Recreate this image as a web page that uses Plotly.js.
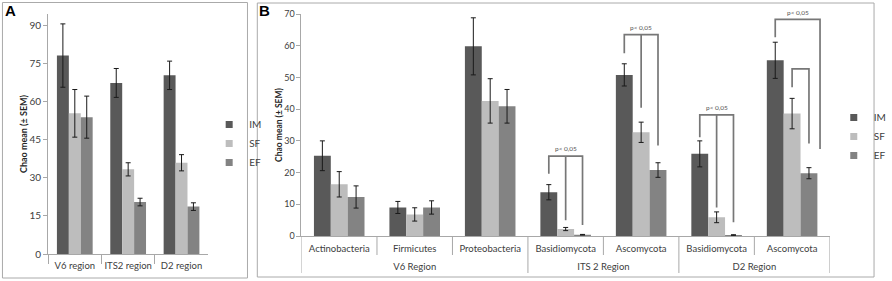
<!DOCTYPE html>
<html><head><meta charset="utf-8">
<script src="https://cdn.plot.ly/plotly-3.0.1.min.js"></script>
<style>html,body{margin:0;padding:0;background:#fff}#chart{width:892px;height:281px}</style>
</head><body><div id="chart"></div>
<script>
// ---- Panel A data ----
const regionsA = ['V6 region', 'ITS2 region', 'D2 region'];
const imA = [78.3, 67.5, 70.5];
const imErrA = [12.5, 5.7, 5.6];
const sfA = [55.5, 33.4, 36.0];
const sfErrA = [9.4, 2.6, 3.2];
const efA = [54.0, 20.5, 18.7];
const efErrA = [8.3, 1.5, 1.5];
const ticksA = [0, 15, 30, 45, 60, 75, 90];

// ---- Panel B data ----
const groupsB = ['V6 Region', 'V6 Region', 'V6 Region', 'ITS 2 Region', 'ITS 2 Region', 'D2 Region', 'D2 Region'];
const taxaB = ['Actinobacteria', 'Firmicutes', 'Proteobacteria', 'Basidiomycota', 'Ascomycota', 'Basidiomycota', 'Ascomycota'];
const imB = [25.3, 9.0, 59.8, 13.8, 50.8, 25.9, 55.4];
const imErrB = [4.7, 1.9, 9.0, 2.4, 3.5, 4.1, 5.7];
const sfB = [16.3, 6.8, 42.6, 2.2, 32.7, 5.9, 38.6];
const sfErrB = [4.0, 2.1, 7.0, 0.5, 3.2, 1.7, 4.8];
const efB = [12.3, 9.0, 40.9, 0.4, 20.8, 0.3, 19.8];
const efErrB = [3.5, 2.1, 5.3, 0.1, 2.3, 0.1, 1.75];
const ticksB = [0, 10, 20, 30, 40, 50, 60, 70];

const seriesNames = ['IM', 'SF', 'EF'];
const sigLabel = 'p< 0,05';

// ---- styles / layout helpers ----
const W = 892, H = 281;
const fx = px => px / W;
const fy = py => 1 - py / H;
const colors = ['#595959', '#bdbdbd', '#838383'];
const FONT = 'Lato, "Open Sans", sans-serif';
const axisCol = '#a8a8a8';
const txtCol = '#404040';

const valsA = [imA, sfA, efA], errsA = [imErrA, sfErrA, efErrA];
const valsB = [imB, sfB, efB], errsB = [imErrB, sfErrB, efErrB];

// category index positions and group centres for panel B
const taxaIdx = taxaB.map((_, i) => i);
const groupNames = [], groupCenters = [];
groupsB.forEach((g, i) => {
  if (groupNames[groupNames.length - 1] !== g) { groupNames.push(g); groupCenters.push([i, i]); }
  else groupCenters[groupCenters.length - 1][1] = i;
});
const groupPos = groupCenters.map(r => (r[0] + r[1]) / 2);
const groupBounds = [-0.5].concat(groupCenters.map(r => r[1] + 0.5));
const innerBounds = taxaIdx.slice(0, -1).map(i => i + 0.5).filter(v => groupBounds.indexOf(v) < 0);

const traces = [];
// legend entries (square markers)
['legend', 'legend2'].forEach(lg => {
  for (let s = 0; s < 3; s++) {
    traces.push({type: 'scatter', mode: 'markers', name: seriesNames[s], x: [null], y: [null],
      xaxis: 'x3', yaxis: 'y2', legend: lg, hoverinfo: 'skip',
      marker: {symbol: 'square', size: 7, color: colors[s]}});
  }
});
for (let s = 0; s < 3; s++) {
  traces.push({
    type: 'bar', name: seriesNames[s], x: regionsA, y: valsA[s],
    xaxis: 'x', yaxis: 'y', showlegend: false, hoverinfo: 'skip',
    marker: {color: colors[s], line: {width: 0}},
    error_y: {type: 'data', array: errsA[s], color: '#1a1a1a', thickness: 1, width: 2.5}
  });
}
for (let s = 0; s < 3; s++) {
  traces.push({
    type: 'bar', name: seriesNames[s], x: [groupsB, taxaB], y: valsB[s],
    xaxis: 'x2', yaxis: 'y2', showlegend: false, hoverinfo: 'skip',
    marker: {color: colors[s], line: {width: 0}},
    error_y: {type: 'data', array: errsB[s], color: '#1a1a1a', thickness: 1, width: 2.5}
  });
}
// invisible carrier for the group-label axis
traces.push({type: 'scatter', mode: 'markers', x: [null], y: [null], xaxis: 'x4', yaxis: 'y2',
  showlegend: false, hoverinfo: 'skip'});

// significance brackets (panel B), in category-index coordinates
const bw = 0.67 / 3;
const brackets = [
  {xs: [3 - bw, 3, 3 + bw], bottoms: [19.6, 5.0, 3.5], top: 25.2, label: true, lx: 3, ly: 27.6, ys: 0},
  {xs: [4 - bw, 4, 4 + bw], bottoms: [57.6, 40.4, 28.5], top: 63.5, label: true, lx: 4, ly: 65.7, ys: 0},
  {xs: [5 - bw, 5, 5 + bw], bottoms: [31.1, 9.0, 4.3], top: 38.2, label: true, lx: 5, ly: 40.4, ys: 0},
  {xs: [6 - bw, 6.37], bottoms: [62.7, 27.4], top: 68.3, label: true, lx: 6.08, ly: 69.5, ys: 3},
  {xs: [6, 6 + bw], bottoms: [46.9, 29.2], top: 52.7, label: false}
];

const shapes = [];
const annotations = [];
brackets.forEach(b => {
  const n = b.xs.length;
  let p = `M${b.xs[0]},${b.bottoms[0]} V${b.top} H${b.xs[n - 1]} V${b.bottoms[n - 1]}`;
  if (n === 3) p += ` M${b.xs[1]},${b.top} V${b.bottoms[1]}`;
  shapes.push({type: 'path', xref: 'x3', yref: 'y2', path: p, line: {color: '#777777', width: 1.7}});
  if (b.label) annotations.push({xref: 'x3', yref: 'y2', x: b.lx, y: b.ly, yshift: b.ys, text: sigLabel, showarrow: false,
    font: {family: FONT, size: 6.5, color: '#555'}, xanchor: 'center', yanchor: 'middle'});
});

// category separators for panel B
groupBounds.forEach(v => shapes.push({type: 'line', xref: 'x3', yref: 'paper', x0: v, x1: v,
  y0: fy(236), y1: fy(273), line: {color: axisCol, width: 1}}));
innerBounds.forEach(v => shapes.push({type: 'line', xref: 'x3', yref: 'paper', x0: v, x1: v,
  y0: fy(236), y1: fy(255), line: {color: axisCol, width: 1}}));

// frames
shapes.push({type: 'rect', xref: 'paper', yref: 'paper', x0: fx(2.5), x1: fx(252), y0: fy(278), y1: fy(2.5),
  line: {color: '#aaaaaa', width: 1}, layer: 'below'});
shapes.push({type: 'rect', xref: 'paper', yref: 'paper', x0: fx(262), x1: fx(890), y0: fy(277), y1: fy(3),
  line: {color: '#aaaaaa', width: 1}, layer: 'below'});

annotations.push({xref: 'paper', yref: 'paper', x: fx(11), y: fy(11), text: '<b>A</b>', showarrow: false,
  font: {family: 'Liberation Sans, Arial, sans-serif', size: 15, color: '#000'}, xanchor: 'center', yanchor: 'middle'});
annotations.push({xref: 'paper', yref: 'paper', x: fx(269.5), y: fy(10.5), text: '<b>B</b>', showarrow: false,
  font: {family: 'Liberation Sans, Arial, sans-serif', size: 15, color: '#000'}, xanchor: 'center', yanchor: 'middle'});

const yCommon = {
  showline: true, linecolor: axisCol, linewidth: 1, ticks: 'outside', ticklen: 4, tickcolor: axisCol,
  showgrid: false, zeroline: false, fixedrange: true
};

const layout = {
  width: W, height: H, margin: {l: 0, r: 0, t: 0, b: 0},
  paper_bgcolor: '#fff', plot_bgcolor: 'rgba(0,0,0,0)',
  font: {family: FONT, color: txtCol},
  barmode: 'group', bargap: 0.33, bargroupgap: 0,
  xaxis: {domain: [fx(49), fx(212)], anchor: 'y', type: 'category', showline: true, linecolor: axisCol,
    ticks: 'outside', tickson: 'boundaries', ticklen: 9, tickcolor: axisCol, showgrid: false, zeroline: false,
    tickangle: 0, ticklabelstandoff: 3, tickfont: {family: FONT, size: 9.5, color: txtCol}, fixedrange: true},
  yaxis: Object.assign({}, yCommon, {domain: [fy(254), fy(14)], anchor: 'x', range: [0, 94.7],
    tickmode: 'array', tickvals: ticksA, tickfont: {family: FONT, size: 10, color: txtCol},
    title: {text: 'Chao mean (± SEM)', standoff: 0, font: {family: FONT, size: 9, weight: 'bold', color: '#262626'}}}),
  xaxis2: {domain: [fx(307), fx(845)], anchor: 'y2', type: 'multicategory', range: [-0.5, 6.5],
    showline: true, linecolor: axisCol, ticks: '', showdividers: false, showticklabels: false,
    showgrid: false, zeroline: false, fixedrange: true},
  yaxis2: Object.assign({}, yCommon, {domain: [fy(236), fy(14)], anchor: 'x2', range: [0, 70],
    tickmode: 'array', tickvals: ticksB, tickfont: {family: FONT, size: 9, color: txtCol},
    title: {text: 'Chao mean (± SEM)', standoff: 0, font: {family: FONT, size: 8.5, weight: 'bold', color: '#262626'}}}),
  // taxon labels (first level)
  xaxis3: {overlaying: 'x2', anchor: 'y2', type: 'linear', range: [-0.5, 6.5], showline: false, showgrid: false,
    zeroline: false, ticks: '', tickmode: 'array', tickvals: taxaIdx, ticktext: taxaB, ticklabelstandoff: 5,
    tickfont: {family: FONT, size: 9.5, color: txtCol}, fixedrange: true},
  // region labels (second level)
  xaxis4: {overlaying: 'x2', anchor: 'free', position: fy(259), type: 'linear', range: [-0.5, 6.5],
    showline: false, showgrid: false, zeroline: false, ticks: '', tickmode: 'array', tickvals: groupPos,
    ticktext: groupNames, tickfont: {family: FONT, size: 9.5, color: txtCol}, fixedrange: true},
  legend: {x: fx(213), y: fy(110), xanchor: 'left', yanchor: 'top', bgcolor: 'rgba(0,0,0,0)', traceorder: 'normal',
    font: {family: FONT, size: 10, color: txtCol}, itemwidth: 30, tracegroupgap: 0},
  legend2: {x: fx(849), y: fy(103), xanchor: 'left', yanchor: 'top', bgcolor: 'rgba(0,0,0,0)', traceorder: 'normal',
    font: {family: FONT, size: 10, color: txtCol}, itemwidth: 30, tracegroupgap: 0},
  shapes: shapes, annotations: annotations, showlegend: true
};

Plotly.newPlot('chart', traces, layout, {staticPlot: true, displayModeBar: false});
</script></body></html>
